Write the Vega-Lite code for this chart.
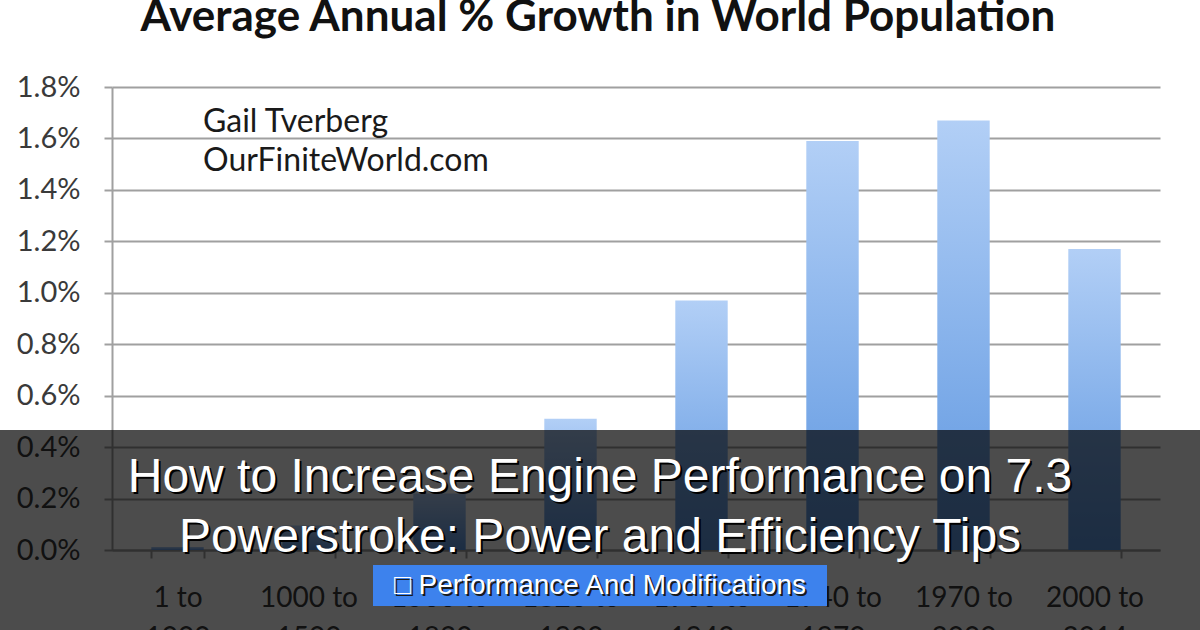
{
  "$schema": "https://vega.github.io/schema/vega-lite/v6.json",
  "width": 1048,
  "height": 463,
  "autosize": {"type": "none"},
  "padding": {"left": 112, "top": 87, "right": 40, "bottom": 80},
  "background": "white",
  "config": {"view": {"stroke": null}},
  "layer": [
    {
      "data": {
        "values": [
          {"period": "1 to 1000", "growth": 0.00012},
          {"period": "1000 to 1500", "growth": 0.00095},
          {"period": "1500 to 1820", "growth": 0.0022},
          {"period": "1820 to 1900", "growth": 0.0051},
          {"period": "1900 to 1940", "growth": 0.0097},
          {"period": "1940 to 1970", "growth": 0.0159},
          {"period": "1970 to 2000", "growth": 0.0167},
          {"period": "2000 to 2014", "growth": 0.0117}
        ]
      },
      "mark": {
        "type": "bar",
        "color": {
          "gradient": "linear",
          "x1": 0, "y1": 0, "x2": 0, "y2": 1,
          "stops": [
            {"offset": 0, "color": "#b2cff6"},
            {"offset": 1, "color": "#5d96e0"}
          ]
        }
      },
      "encoding": {
        "x": {
          "field": "period",
          "type": "nominal",
          "sort": null,
          "scale": {"paddingInner": 0.6, "paddingOuter": 0.3},
          "axis": {
            "title": null,
            "labelAngle": 0,
            "labelFont": "Lato",
            "labelFontSize": 28,
            "labelColor": "#3a3a3a",
            "labelPadding": 26,
            "labelBaseline": "top",
            "labelLineHeight": 40,
            "labelExpr": "datum.label ? [slice(datum.label, 0, indexof(datum.label, 'to') + 2), slice(datum.label, indexof(datum.label, 'to') + 3)] : ''",
            "domainColor": "#a0a0a0",
            "domainWidth": 2,
            "tickColor": "#a0a0a0",
            "tickWidth": 2,
            "tickSize": 8,
            "tickBand": "extent"
          }
        },
        "y": {
          "field": "growth",
          "type": "quantitative",
          "scale": {"domain": [0, 0.018], "nice": false},
          "axis": {
            "title": null,
            "values": [0, 0.002, 0.004, 0.006, 0.008, 0.01, 0.012, 0.014, 0.016, 0.018],
            "format": ".1%",
            "labelFont": "Lato",
            "labelFontSize": 29,
            "labelColor": "#3a3a3a",
            "labelPadding": 24,
            "grid": true,
            "gridColor": "#a0a0a0",
            "gridWidth": 2,
            "domainColor": "#a0a0a0",
            "domainWidth": 2,
            "tickColor": "#a0a0a0",
            "tickWidth": 2,
            "tickSize": 8
          }
        }
      }
    },
    {
      "data": {"values": [{"text": "Average Annual % Growth in World Population"}]},
      "mark": {"type": "text", "font": "Lato", "fontSize": 44, "fontWeight": "bold", "color": "#111111", "align": "center", "baseline": "alphabetic", "x": 486, "y": -56},
      "encoding": {"text": {"field": "text"}}
    },
    {
      "data": {"values": [{"line": "Gail Tverberg", "row": 0}, {"line": "OurFiniteWorld.com", "row": 1}]},
      "transform": [{"filter": "datum.row == 0"}],
      "mark": {"type": "text", "font": "Lato", "fontSize": 32, "color": "#1a1a1a", "align": "left", "baseline": "alphabetic", "x": 91, "y": 45},
      "encoding": {"text": {"field": "line"}}
    },
    {
      "data": {"values": [{"line": "Gail Tverberg", "row": 0}, {"line": "OurFiniteWorld.com", "row": 1}]},
      "transform": [{"filter": "datum.row == 1"}],
      "mark": {"type": "text", "font": "Lato", "fontSize": 32, "color": "#1a1a1a", "align": "left", "baseline": "alphabetic", "x": 91, "y": 84},
      "encoding": {"text": {"field": "line"}}
    },
    {
      "data": {"values": [{"banner": "overlay"}]},
      "mark": {"type": "rect", "color": "#000000", "opacity": 0.7, "x": -112, "x2": 1088, "y": 343, "y2": 543},
      "encoding": {}
    },
    {
      "data": {"values": [{"text": "How to Increase Engine Performance on 7.3", "row": 0}]},
      "mark": {"type": "text", "font": "Liberation Sans", "fontSize": 48, "color": "#000000", "align": "center", "baseline": "middle", "x": 490, "y": 393},
      "encoding": {"text": {"field": "text"}}
    },
    {
      "data": {"values": [{"text": "Powerstroke: Power and Efficiency Tips", "row": 1}]},
      "mark": {"type": "text", "font": "Liberation Sans", "fontSize": 48, "color": "#000000", "align": "center", "baseline": "middle", "x": 490, "y": 453},
      "encoding": {"text": {"field": "text"}}
    },
    {
      "data": {"values": [{"text": "How to Increase Engine Performance on 7.3", "row": 0}]},
      "mark": {"type": "text", "font": "Liberation Sans", "fontSize": 48, "color": "#ffffff", "align": "center", "baseline": "middle", "x": 488, "y": 391},
      "encoding": {"text": {"field": "text"}}
    },
    {
      "data": {"values": [{"text": "Powerstroke: Power and Efficiency Tips", "row": 1}]},
      "mark": {"type": "text", "font": "Liberation Sans", "fontSize": 48, "color": "#ffffff", "align": "center", "baseline": "middle", "x": 488, "y": 451},
      "encoding": {"text": {"field": "text"}}
    },
    {
      "data": {"values": [{"button": "category"}]},
      "mark": {"type": "rect", "color": "#3d82ed", "x": 261, "x2": 715, "y": 478, "y2": 519},
      "encoding": {}
    },
    {
      "data": {"values": [{"text": "\u25a1 Performance And Modifications"}]},
      "mark": {"type": "text", "font": "Liberation Sans", "fontSize": 28, "color": "#1a1a1a", "align": "center", "baseline": "middle", "x": 490, "y": 501},
      "encoding": {"text": {"field": "text"}}
    },
    {
      "data": {"values": [{"text": "\u25a1 Performance And Modifications"}]},
      "mark": {"type": "text", "font": "Liberation Sans", "fontSize": 28, "color": "#ffffff", "align": "center", "baseline": "middle", "x": 488, "y": 499},
      "encoding": {"text": {"field": "text"}}
    }
  ]
}
